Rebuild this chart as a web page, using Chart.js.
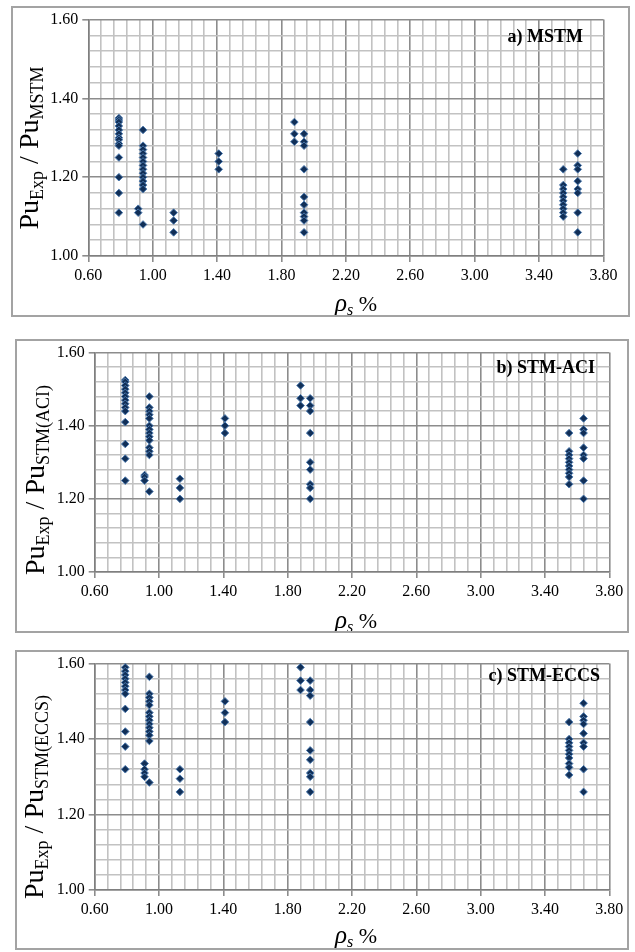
<!DOCTYPE html>
<html>
<head>
<meta charset="utf-8">
<script src="https://cdn.jsdelivr.net/npm/chart.js@4.4.0/dist/chart.umd.min.js"></script>
<style>
    body { margin: 0; background: #fff; width: 635px; height: 952px; position: relative; overflow: hidden; }
    .panel { position: absolute; }
    .panel canvas { position: absolute; left: 0; top: 0; }
    .frame { position: absolute; left: 0; top: 0; right: 0; bottom: 0; border: 2px solid #a3a3a3; box-sizing: border-box; pointer-events: none; }
</style>
</head>
<body>
<div class="panel" style="left:11px;top:6px;width:619px;height:311px">
    <canvas id="chartA" width="619" height="311"></canvas><div class="frame"></div>
</div>
<div class="panel" style="left:15px;top:339px;width:614px;height:294px">
    <canvas id="chartB" width="614" height="294"></canvas><div class="frame"></div>
</div>
<div class="panel" style="left:15px;top:650px;width:614px;height:300px">
    <canvas id="chartC" width="614" height="300"></canvas><div class="frame"></div>
</div>
<script>
// rho_s (%) of each column of specimens
const rhoCols = [0.79, 0.91, 0.94, 1.13, 1.41, 1.88, 1.94, 3.55, 3.64];
const xTicks = [0.60, 1.00, 1.40, 1.80, 2.20, 2.60, 3.00, 3.40, 3.80];
const yTicks = [1.00, 1.20, 1.40, 1.60];

// Pu_Exp / Pu_MSTM, one list per column
const ratioMSTM = [
    [1.35, 1.345, 1.34, 1.33, 1.32, 1.31, 1.30, 1.295, 1.285, 1.28, 1.25, 1.20, 1.16, 1.11],
    [1.12, 1.11],
    [1.32, 1.28, 1.27, 1.26, 1.25, 1.24, 1.23, 1.22, 1.21, 1.20, 1.19, 1.18, 1.17, 1.08],
    [1.11, 1.09, 1.06],
    [1.26, 1.24, 1.22],
    [1.34, 1.31, 1.29],
    [1.31, 1.29, 1.28, 1.22, 1.15, 1.13, 1.11, 1.10, 1.09, 1.06],
    [1.22, 1.18, 1.17, 1.16, 1.15, 1.14, 1.13, 1.12, 1.11, 1.10],
    [1.26, 1.23, 1.22, 1.19, 1.17, 1.16, 1.11, 1.06]
];

// Pu_Exp / Pu_STM(ACI)
const ratioACI = [
    [1.525, 1.52, 1.51, 1.50, 1.49, 1.48, 1.47, 1.46, 1.45, 1.44, 1.41, 1.35, 1.31, 1.25],
    [1.265, 1.26, 1.25],
    [1.48, 1.45, 1.44, 1.43, 1.42, 1.40, 1.39, 1.38, 1.37, 1.36, 1.34, 1.33, 1.32, 1.22],
    [1.255, 1.23, 1.20],
    [1.42, 1.40, 1.38],
    [1.51, 1.475, 1.455],
    [1.475, 1.455, 1.44, 1.38, 1.30, 1.28, 1.24, 1.23, 1.20],
    [1.38, 1.33, 1.32, 1.31, 1.30, 1.29, 1.28, 1.27, 1.26, 1.24],
    [1.42, 1.39, 1.38, 1.34, 1.32, 1.31, 1.25, 1.20]
];

// Pu_Exp / Pu_STM(ECCS)
const ratioECCS = [
    [1.59, 1.58, 1.57, 1.56, 1.55, 1.54, 1.53, 1.52, 1.48, 1.42, 1.38, 1.32],
    [1.335, 1.32, 1.31, 1.30],
    [1.565, 1.52, 1.51, 1.50, 1.49, 1.47, 1.46, 1.45, 1.44, 1.43, 1.42, 1.41, 1.395, 1.285],
    [1.32, 1.295, 1.26],
    [1.50, 1.47, 1.445],
    [1.59, 1.555, 1.53],
    [1.555, 1.53, 1.515, 1.445, 1.37, 1.345, 1.31, 1.30, 1.26],
    [1.445, 1.40, 1.39, 1.38, 1.37, 1.36, 1.35, 1.335, 1.325, 1.305],
    [1.495, 1.46, 1.45, 1.44, 1.415, 1.39, 1.38, 1.32, 1.26]
];

const MAJOR = '#8c8c8c';
const MINOR = '#c2c2c2';
const SERIF = "'Liberation Serif', 'Times New Roman', serif";

function isMajor(v, list) {
    return list.some(t => Math.abs(t - v) < 1e-6);
}

function toPoints(cols) {
    const pts = [];
    cols.forEach((vals, i) => vals.forEach(v => pts.push({ x: rhoCols[i], y: v })));
    return pts;
}

// text with subscripts, optionally rotated
function drawRich(ctx, parts, x, y, angle) {
    ctx.save();
    ctx.translate(x, y);
    ctx.rotate(angle);
    let total = 0;
    parts.forEach(p => { ctx.font = p.font; p.w = ctx.measureText(p.text).width; total += p.w; });
    let pos = -total / 2;
    ctx.fillStyle = '#000';
    ctx.textBaseline = 'alphabetic';
    parts.forEach(p => { ctx.font = p.font; ctx.fillText(p.text, pos, p.dy || 0); pos += p.w; });
    ctx.restore();
}

function makePanel(id, cols, cfg) {
    const big = '28px ' + SERIF;
    const small = '18px ' + SERIF;
    const textPlugin = {
        id: 'panelText',
        afterDraw(chart) {
            const ctx = chart.ctx;
            // panel label
            ctx.save();
            ctx.font = 'bold 18px ' + SERIF;
            ctx.fillStyle = '#000';
            ctx.textAlign = 'right';
            ctx.fillText(cfg.title, cfg.titleX, cfg.titleY);
            ctx.restore();
            // y title: Pu_Exp / Pu_xxx
            drawRich(ctx, [
                { text: 'Pu', font: big },
                { text: 'Exp', font: small, dy: 5 },
                { text: ' / ', font: big },
                { text: 'Pu', font: big },
                { text: cfg.sub, font: small, dy: 5 }
            ], cfg.yTitleX, cfg.yTitleY, -Math.PI / 2);
            // x title: rho_s %
            drawRich(ctx, [
                { text: 'ρ', font: 'italic 25px ' + SERIF },
                { text: 's', font: 'italic 16px ' + SERIF, dy: 4 },
                { text: ' %', font: '22px ' + SERIF }
            ], cfg.xTitleX, cfg.xTitleY, 0);
        }
    };

    new Chart(document.getElementById(id), {
        type: 'scatter',
        data: {
            datasets: [{
                data: toPoints(cols),
                pointStyle: 'rectRot',
                pointRadius: 3.8,
                backgroundColor: '#112f57',
                borderColor: '#4a78ad',
                borderWidth: 1,
                clip: false
            }]
        },
        options: {
            responsive: false,
            animation: false,
            events: [],
            layout: { padding: { left: 0, top: cfg.padTop, right: cfg.padRight, bottom: 0 } },
            plugins: { legend: { display: false }, tooltip: { enabled: false } },
            scales: {
                x: {
                    type: 'linear', min: 0.6, max: 3.8,
                    afterFit: s => { s.height = cfg.xHeight; },
                    ticks: {
                        stepSize: 0.08, maxTicksLimit: 100, autoSkip: false, maxRotation: 0,
                        padding: 4, color: '#000',
                        font: { family: SERIF, size: 16 },
                        callback: v => isMajor(v, xTicks) ? v.toFixed(2) : ''
                    },
                    grid: {
                        color: c => isMajor(c.tick.value, xTicks) ? MAJOR : MINOR,
                        tickColor: c => isMajor(c.tick.value, xTicks) ? MAJOR : 'rgba(0,0,0,0)',
                        lineWidth: 1.6, tickLength: 6
                    },
                    border: { color: '#7f7f7f', width: 1.5 }
                },
                y: {
                    type: 'linear', min: 1.0, max: 1.6,
                    afterFit: s => { s.width = cfg.yWidth; },
                    ticks: {
                        stepSize: 0.04, maxTicksLimit: 100, autoSkip: false,
                        padding: 4, color: '#000',
                        font: { family: SERIF, size: 16 },
                        callback: v => isMajor(v, yTicks) ? v.toFixed(2) : ''
                    },
                    grid: {
                        color: c => isMajor(c.tick.value, yTicks) ? MAJOR : MINOR,
                        tickColor: c => isMajor(c.tick.value, yTicks) ? MAJOR : 'rgba(0,0,0,0)',
                        lineWidth: 1.6, tickLength: 6
                    },
                    border: { color: '#7f7f7f', width: 1.5 }
                }
            }
        },
        plugins: [textPlugin]
    });
}

makePanel('chartA', ratioMSTM, {
    title: 'a) MSTM', titleX: 572, titleY: 36, sub: 'MSTM',
    yTitleX: 27, yTitleY: 142, xTitleX: 345, xTitleY: 305,
    padTop: 9, padRight: 26.5, yWidth: 77.3, xHeight: 61
});
makePanel('chartB', ratioACI, {
    title: 'b) STM-ACI', titleX: 580, titleY: 34, sub: 'STM(ACI)',
    yTitleX: 29, yTitleY: 141, xTitleX: 341, xTitleY: 289,
    padTop: 6, padRight: 19.7, yWidth: 79.7, xHeight: 61
});
makePanel('chartC', ratioECCS, {
    title: 'c) STM-ECCS', titleX: 585, titleY: 31, sub: 'STM(ECCS)',
    yTitleX: 28, yTitleY: 147, xTitleX: 341, xTitleY: 293,
    padTop: 9, padRight: 19.7, yWidth: 79.7, xHeight: 60
});
</script>
</body>
</html>
